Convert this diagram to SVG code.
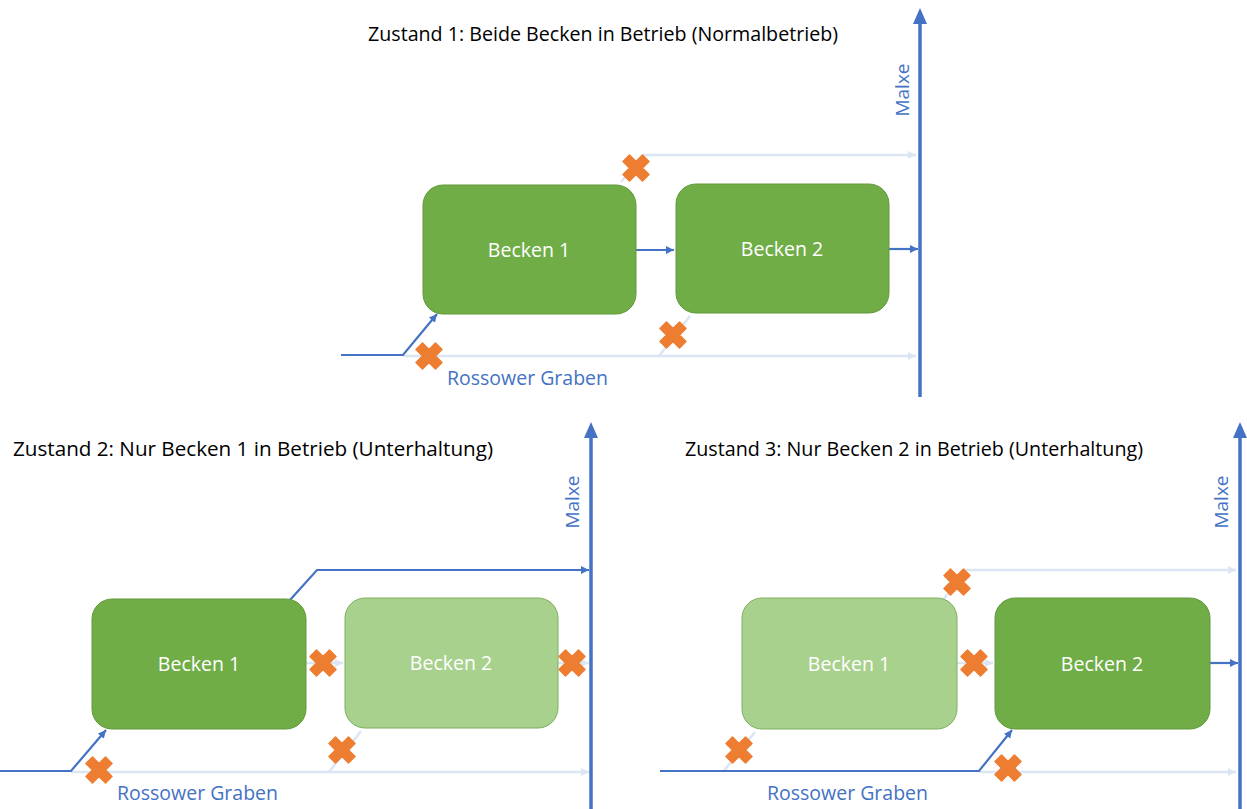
<svg xmlns="http://www.w3.org/2000/svg" width="1247" height="809" viewBox="0 0 1247 809">
<style>
.title{font-family:"Open Sans","Noto Sans",sans-serif;font-size:19.5px;fill:#000}
.lbl{font-family:"Open Sans","Noto Sans",sans-serif;font-size:19.5px;fill:#fff;text-anchor:middle}
.river{font-family:"Open Sans","Noto Sans",sans-serif;font-size:19.5px;fill:#4472C4}
.malxe{font-family:"Open Sans","Noto Sans",sans-serif;font-size:19px;fill:#4472C4;text-anchor:middle}
.dark{fill:#70AD47;stroke:#62993D;stroke-width:1}
.light{fill:#A9D18E;stroke:#7FAF5E;stroke-width:1}
.flow{fill:none;stroke:#4472C4;stroke-width:2.2}
.off{fill:none;stroke:#DCE5F4;stroke-width:2.5}
.axis{stroke:#4472C4;stroke-width:3.5}
.axhead{fill:#4472C4}
.x{fill:#ED7D31;stroke:#ED7D31;stroke-width:1.5;stroke-linejoin:round}
</style>
<defs>
<marker id="ah" markerUnits="userSpaceOnUse" markerWidth="10" markerHeight="10" refX="8" refY="4" orient="auto"><path d="M0,0 L8,4 L0,8 z" fill="#4472C4"/></marker>
<marker id="ahf" markerUnits="userSpaceOnUse" markerWidth="10" markerHeight="10" refX="8" refY="4" orient="auto"><path d="M0,0 L8,4 L0,8 z" fill="#DCE5F4"/></marker>
<path id="xm" d="M-6.5,-13 L0,-6.5 L6.5,-13 L13,-6.5 L6.5,0 L13,6.5 L6.5,13 L0,6.5 L-6.5,13 L-13,6.5 L-6.5,0 L-13,-6.5 Z"/>
</defs>
<rect width="1247" height="809" fill="#fff"/>

<!-- Panel 1 -->
<g id="panel1">
<text class="title" x="603" y="41" text-anchor="middle" textLength="470" lengthAdjust="spacingAndGlyphs">Zustand 1: Beide Becken in Betrieb (Normalbetrieb)</text>
<g id="p1-connectors">
<path class="off" d="M621,182 L644,155 L916,155" marker-end="url(#ahf)"/>
<path class="off" d="M403,356 L916,356" marker-end="url(#ahf)"/>
<path class="off" d="M659,356 L690,316"/>
<path class="flow" d="M341,355 L403,355 L437,314" marker-end="url(#ah)"/>
<path class="flow" d="M636,250 L674,250" marker-end="url(#ah)"/>
<path class="flow" d="M889,249 L918,249" marker-end="url(#ah)"/>
</g>
<g id="p1-malxe">
<line class="axis" x1="920" y1="22" x2="920" y2="397"/>
<path class="axhead" d="M920,8 L927,24 L913,24 Z"/>
<text class="malxe" transform="translate(909,90) rotate(-90)">Malxe</text>
</g>
<g id="p1-becken1"><rect class="dark" x="423" y="185" width="213" height="129" rx="20"/><text class="lbl" x="529" y="257">Becken 1</text></g>
<g id="p1-becken2"><rect class="dark" x="676" y="184" width="213" height="129" rx="20"/><text class="lbl" x="782" y="256">Becken 2</text></g>
<g id="p1-marks">
<use href="#xm" class="x" x="636" y="168"/>
<use href="#xm" class="x" x="673" y="335"/>
<use href="#xm" class="x" x="429" y="356"/>
</g>
<text class="river" x="447" y="385">Rossower Graben</text>
</g>

<!-- Panel 2 -->
<g id="panel2">
<text class="title" x="13" y="456" textLength="480" lengthAdjust="spacingAndGlyphs">Zustand 2: Nur Becken 1 in Betrieb (Unterhaltung)</text>
<g id="p2-connectors">
<path class="off" d="M306,663 L343,663" marker-end="url(#ahf)"/>
<path class="off" d="M558,663 L589,663" marker-end="url(#ahf)"/>
<path class="off" d="M71,772 L589,772" marker-end="url(#ahf)"/>
<path class="off" d="M329,772 L361,731"/>
<path class="flow" d="M0,771 L71,771 L106,730" marker-end="url(#ah)"/>
<path class="flow" d="M290,600 L317,570 L589,570" marker-end="url(#ah)"/>
</g>
<g id="p2-malxe">
<line class="axis" x1="591" y1="436" x2="591" y2="809"/>
<path class="axhead" d="M591,422 L598,438 L584,438 Z"/>
<text class="malxe" transform="translate(579,502) rotate(-90)">Malxe</text>
</g>
<g id="p2-becken1"><rect class="dark" x="92" y="599" width="214" height="130" rx="20"/><text class="lbl" x="199" y="671">Becken 1</text></g>
<g id="p2-becken2"><rect class="light" x="345" y="598" width="213" height="130" rx="20"/><text class="lbl" x="451" y="670">Becken 2</text></g>
<g id="p2-marks">
<use href="#xm" class="x" x="323" y="663"/>
<use href="#xm" class="x" x="572" y="663"/>
<use href="#xm" class="x" x="99" y="770"/>
<use href="#xm" class="x" x="342" y="750"/>
</g>
<text class="river" x="117" y="800">Rossower Graben</text>
</g>

<!-- Panel 3 -->
<g id="panel3">
<text class="title" x="685" y="456" textLength="458" lengthAdjust="spacingAndGlyphs">Zustand 3: Nur Becken 2 in Betrieb (Unterhaltung)</text>
<g id="p3-connectors">
<path class="off" d="M943,600 L967,570 L1236,570" marker-end="url(#ahf)"/>
<path class="off" d="M957,663 L993,663" marker-end="url(#ahf)"/>
<path class="off" d="M979,772 L1236,772" marker-end="url(#ahf)"/>
<path class="off" d="M723,772 L755,732"/>
<path class="flow" d="M660,771 L979,771 L1012,730" marker-end="url(#ah)"/>
<path class="flow" d="M1210,663 L1238,663" marker-end="url(#ah)"/>
</g>
<g id="p3-malxe">
<line class="axis" x1="1240" y1="436" x2="1240" y2="809"/>
<path class="axhead" d="M1240,422 L1247,438 L1233,438 Z"/>
<text class="malxe" transform="translate(1228,502) rotate(-90)">Malxe</text>
</g>
<g id="p3-becken1"><rect class="light" x="742" y="598" width="215" height="131" rx="20"/><text class="lbl" x="849" y="671">Becken 1</text></g>
<g id="p3-becken2"><rect class="dark" x="995" y="598" width="215" height="131" rx="20"/><text class="lbl" x="1102" y="671">Becken 2</text></g>
<g id="p3-marks">
<use href="#xm" class="x" x="957" y="582"/>
<use href="#xm" class="x" x="974" y="663"/>
<use href="#xm" class="x" x="739" y="750"/>
<use href="#xm" class="x" x="1008" y="768"/>
</g>
<text class="river" x="767" y="800">Rossower Graben</text>
</g>
</svg>
